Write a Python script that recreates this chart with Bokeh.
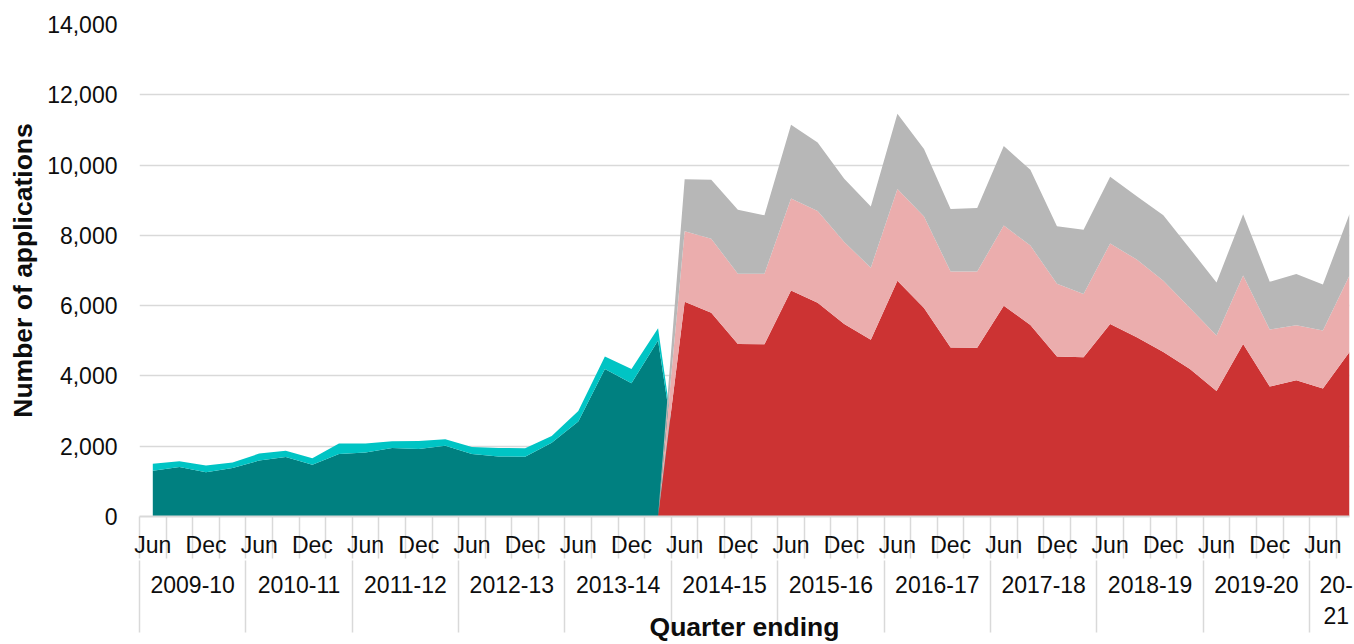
from bokeh.plotting import figure
from bokeh.models import ColumnDataSource, Range1d, LinearAxis, FixedTicker, NumeralTickFormatter
from bokeh.embed import file_html
from bokeh.resources import INLINE

# ---------------- data ----------------
years = ["2009-10", "2010-11", "2011-12", "2012-13", "2013-14", "2014-15",
         "2015-16", "2016-17", "2017-18", "2018-19", "2019-20", "20-21"]
quarters_in_year = [4, 4, 4, 4, 4, 4, 4, 4, 4, 4, 4, 2]
months = ["Jun", "Sep", "Dec", "Mar"]
shown_months = ["Jun", "Dec"]

# earlier series: quarter ending Jun 2009 .. Mar 2014
teal_dark = [1300, 1410, 1260, 1380, 1590, 1690, 1470, 1780, 1820, 1950,
             1920, 2010, 1780, 1710, 1700, 2100, 2700, 4200, 3790, 5010]
teal_light = [200, 160, 190, 160, 200, 180, 190, 300, 260, 190,
              230, 190, 200, 240, 240, 190, 300, 350, 410, 350]

# later series: quarter ending Jun 2014 .. Sep 2020
red = [6110, 5800, 4910, 4900, 6430, 6080, 5480, 5030, 6710, 5930, 4810, 4800, 6000,
       5450, 4550, 4530, 5480, 5100, 4680, 4200, 3570, 4910, 3700, 3880, 3640, 4680]
pink = [2010, 2100, 2000, 2010, 2620, 2610, 2330, 2050, 2610, 2610, 2160, 2170, 2280,
        2260, 2070, 1800, 2290, 2210, 2030, 1730, 1580, 1950, 1620, 1560, 1650, 2180]
grey = [1480, 1680, 1820, 1660, 2100, 1950, 1800, 1740, 2140, 1920, 1780, 1810, 2260,
        2160, 1640, 1830, 1900, 1800, 1860, 1690, 1510, 1740, 1360, 1460, 1310, 1750]

y_ticks = [0, 2000, 4000, 6000, 8000, 10000, 12000, 14000]

# ---------------- styles ----------------
TEAL_DARK = "#008080"
TEAL_LIGHT = "#00C4C4"
RED = "#CC3333"
PINK = "#EBADAD"
GREY = "#B7B7B7"
LINE = "#D9D9D9"
FONT = "Liberation Sans"
TXT = "#0D0D0D"

# ---------------- derived positions ----------------
quarter_labels = []
group_centers = []
group_bounds = []
idx = 0
for y, n in zip(years, quarters_in_year):
    group_bounds.append(idx - 0.5)
    group_centers.append(idx + (n - 1) / 2)
    for k in range(n):
        quarter_labels.append(months[k])
        idx += 1
n_q = len(quarter_labels)

n_teal = len(teal_dark)
teal_x = list(range(n_teal + 1))
teal_src = ColumnDataSource(dict(x=teal_x, dark=teal_dark + [0], light=teal_light + [0]))

red_x = list(range(n_teal - 1, n_q))
red_src = ColumnDataSource(dict(x=red_x, red=[0] + red, pink=[0] + pink, grey=[0] + grey))

p = figure(width=1354, height=644, output_backend="svg", toolbar_location=None,
           x_range=Range1d(-0.5, n_q - 1), y_range=Range1d(0, 14000),
           min_border_left=139, min_border_right=5, min_border_top=24, min_border_bottom=128,
           x_axis_type=None)
p.outline_line_color = None
p.background_fill_color = "white"
p.border_fill_color = "white"

p.varea_stack(["dark", "light"], x="x", color=[TEAL_DARK, TEAL_LIGHT], source=teal_src)
p.varea_stack(["red", "pink", "grey"], x="x", color=[RED, PINK, GREY], source=red_src)

# y axis
p.yaxis.ticker = FixedTicker(ticks=y_ticks)
p.yaxis.formatter = NumeralTickFormatter(format="0,0")
p.yaxis.axis_line_color = None
p.yaxis.major_tick_line_color = None
p.yaxis.minor_tick_line_color = None
p.yaxis.major_tick_out = 0
p.yaxis.major_label_standoff = 22
p.yaxis.major_label_text_font = FONT
p.yaxis.major_label_text_font_size = "23px"
p.yaxis.major_label_text_color = TXT
p.yaxis.axis_label = "Number of applications"
p.yaxis.axis_label_text_font = FONT
p.yaxis.axis_label_text_font_style = "bold"
p.yaxis.axis_label_text_font_size = "26.5px"
p.yaxis.axis_label_text_color = TXT
p.yaxis.axis_label_standoff = 6
p.ygrid.grid_line_color = LINE
p.ygrid.grid_line_width = 1.5

# x axis: quarter labels + category boundary ticks
q_ticks = [i for i, m in enumerate(quarter_labels) if m in shown_months]
ax_q = LinearAxis(
    ticker=FixedTicker(ticks=q_ticks, minor_ticks=[i - 0.5 for i in range(n_q)]),
    major_label_overrides={i: quarter_labels[i] for i in q_ticks},
    major_tick_out=0, major_tick_in=0, major_tick_line_color=None,
    minor_tick_out=0, minor_tick_in=-42, minor_tick_line_color=LINE, minor_tick_line_width=1.5,
    axis_line_color=LINE, axis_line_width=2,
    major_label_standoff=15, major_label_text_font=FONT,
    major_label_text_font_size="23px", major_label_text_color=TXT,
)
p.add_layout(ax_q, "below")

# x axis: year groups + group boundary ticks
year_text = {c: (y if len(y) > 5 else y[:3] + "\n" + y[3:]) for c, y in zip(group_centers, years)}
ax_y = LinearAxis(
    ticker=FixedTicker(ticks=group_centers, minor_ticks=group_bounds),
    major_label_overrides=year_text,
    major_tick_out=0, major_tick_in=0, major_tick_line_color=None,
    minor_tick_out=0, minor_tick_in=-72, minor_tick_line_color=LINE, minor_tick_line_width=1.5,
    axis_line_color=None,
    major_label_standoff=11, major_label_text_font=FONT,
    major_label_text_font_size="23px", major_label_text_color=TXT,
    axis_label="Quarter ending", axis_label_text_font=FONT, axis_label_text_font_style="bold",
    axis_label_text_font_size="26.5px", axis_label_text_color=TXT, axis_label_standoff=-20,
)
p.add_layout(ax_y, "below")

open("out.html", "w").write(file_html(p, INLINE))
